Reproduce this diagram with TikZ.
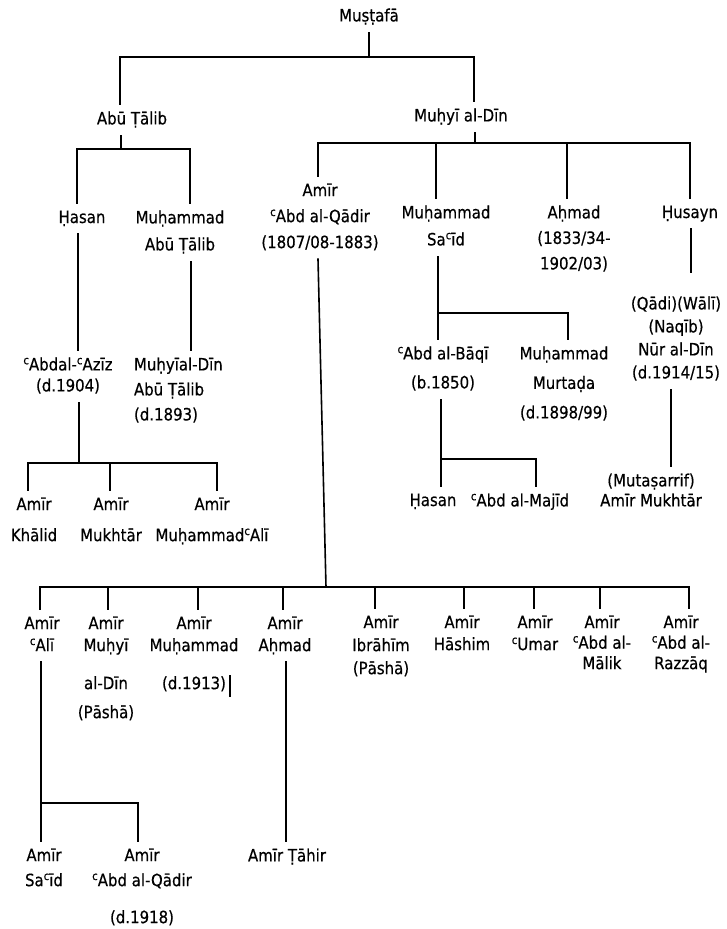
\documentclass[tikz,border=0pt]{standalone}
\usepackage{fontspec}
\newfontfamily\pf[FakeStretch=0.88, FakeBold=0.5]{DejaVu Sans}
\newcommand\ayn{\raisebox{.36em}{\fontsize{11.5pt}{11.5pt}\selectfont c}}
\tikzset{
  person/.style={align=center, inner sep=0pt, outer xsep=0pt, outer ysep=7pt, anchor=north,
    font=\pf\fontsize{17pt}{#1}\selectfont,
    execute at begin node={\rule[-4pt]{0pt}{16.5pt}},
    execute at end node={\rule[-4pt]{0pt}{4pt}}},
  person/.default=22pt,
  link/.style={line width=1.6pt, line cap=rect}
}
\begin{document}
\begin{tikzpicture}[x=1pt,y=-1pt]
\fill[white] (0,0) rectangle (727,929);
\useasboundingbox (0,0) rectangle (727,929);

% ---------- nodes ----------
\node[person] (must) at (369,1.5) {Muṣṭafā};
\node[person] (abu) at (132,104.5) {Abū Ṭālib};
\node[person] (muhyi) at (461,101.5) {Muḥyī al-Dīn};

\node[person] (hasan) at (82,203.5) {Ḥasan};
\node[person=27pt] (mabu) at (180,203.5) {Muḥammad\\Abū Ṭālib};
\node[person=26pt] (amir) at (320,176.5) {Amīr\\\ayn Abd al-Qādir\\(1807/08-1883)};
\node[person=27pt] (msaid) at (446,198.5) {Muḥammad\\Sa\ayn īd};
\node[person=25.5pt] (ahmad) at (574,198.5) {Aḥmad\\(1833/34-\\1902/03)};
\node[person] (husayn) at (690,198.5) {Ḥusayn};

\node[person=23pt] (nur) at (676,289.5) {(Qādi)(Wālī)\\(Naqīb)\\Nūr al-Dīn\\(d.1914/15)};
\node[person=21pt] (azz) at (68,350.5) {\ayn Abdal-\ayn Azīz\\(d.1904)};
\node[person=25pt, anchor=north west, align=left] (muhyiad) at (134,350.5) {Muḥyīal-Dīn\\Abū Ṭālib\\(d.1893)};

\node[person=31pt] (khalid) at (34,490.5) {Amīr\\Khālid};
\node[person=31pt] (mukhtar) at (111,490.5) {Amīr\\Mukhtār};
\node[person=31pt] (mali) at (212,490.5) {Amīr\\Muḥammad\ayn Alī};

\node[person=29pt] (baqi) at (443,339.5) {\ayn Abd al-Bāqī\\(b.1850)};
\node[person=29.5pt] (murtada) at (564,339.5) {Muḥammad\\Murtaḍa\\(d.1898/99)};
\node[person] (hasan2) at (433,486.5) {Ḥasan};
\node[person] (majid) at (520,486.5) {\ayn Abd al-Majīd};
\node[person=20pt] (mukh2) at (651,466.5) {(Mutaṣarrif)\\Amīr Mukhtār};

\node[person] (ali) at (42,609.5) {Amīr\\\ayn Alī};
\node[person] (muhyip) at (106,609.5) {Amīr\\Muḥyī\\[16pt]al-Dīn\\[7pt](Pāshā)};
\node[person] (mmuh) at (194,609.5) {Amīr\\Muḥammad\\[16pt](d.1913)};
\node[person] (ahmad2) at (285,609.5) {Amīr\\Aḥmad};
\node[person=23pt] (ibr) at (381,608.5) {Amīr\\Ibrāhīm\\(Pāshā)};
\node[person] (hashim) at (462,608.5) {Amīr\\Hāshim};
\node[person] (umar) at (535,608.5) {Amīr\\\ayn Umar};
\node[person=20.5pt] (malik) at (602,608.5) {Amīr\\\ayn Abd al-\\Mālik};
\node[person=20.5pt] (razzaq) at (681,608.5) {Amīr\\\ayn Abd al-\\Razzāq};

\node[person=25pt] (said) at (44,841.5) {Amīr\\Sa\ayn īd};
\node[person=25pt] (qadir2) at (142,841.5) {Amīr\\\ayn Abd al-Qādir\\[12pt](d.1918)};
\node[person] (tahir) at (287,841.5) {Amīr Ṭāhir};

% ---------- junction coordinates ----------
\coordinate (j0) at (369,57);  \coordinate (j0L) at (120,57);  \coordinate (j0R) at (474,57);
\coordinate (j1) at (121,149); \coordinate (j1L) at (77,149);  \coordinate (j1R) at (190,149);
\coordinate (j2) at (475,143); \coordinate (j2L) at (318,143); \coordinate (j2R) at (690,143);
\coordinate (j2a) at (436,143); \coordinate (j2b) at (567,143);
\coordinate (c1) at (78,0); \coordinate (c2) at (191,0); \coordinate (c3) at (318,0);
\coordinate (c4) at (691,0); \coordinate (c4e) at (691,272); \coordinate (c5) at (671,0);
\coordinate (c6) at (286,0);
\coordinate (j3) at (79,463); \coordinate (j3L) at (28,463); \coordinate (j3M) at (110,463); \coordinate (j3R) at (217,463);
\coordinate (j4) at (326,587); \coordinate (j4L) at (40,587); \coordinate (j4R) at (689,587);
\coordinate (d1) at (108,587); \coordinate (d2) at (198,587); \coordinate (d3) at (283,587);
\coordinate (d4) at (375,587); \coordinate (d5) at (464,587); \coordinate (d6) at (534,587); \coordinate (d7) at (600,587);
\coordinate (j5) at (438,313); \coordinate (j5R) at (568,313);
\coordinate (j6) at (441,459); \coordinate (j6R) at (536,459);
\coordinate (j7) at (41,803); \coordinate (j7R) at (138,803);
\coordinate (tk1) at (230,675); \coordinate (tk2) at (230,697);

% ---------- connectors ----------
\draw[link] (must.south) -- (j0);
\draw[link] (j0L) -- (j0R);
\draw[link] (j0L) -- (j0L |- abu.north);
\draw[link] (j0R) -- (j0R |- muhyi.north);

\draw[link] (j1 |- abu.south) -- (j1);
\draw[link] (j1L) -- (j1R);
\draw[link] (j1L) -- (j1L |- hasan.north);
\draw[link] (j1R) -- (j1R |- mabu.north);

\draw[link] (j2 |- muhyi.south) -- (j2);
\draw[link] (j2L) -- (j2R);
\draw[link] (j2L) -- (j2L |- amir.north);
\draw[link] (j2a) -- (j2a |- msaid.north);
\draw[link] (j2b) -- (j2b |- ahmad.north);
\draw[link] (j2R) -- (j2R |- husayn.north);

\draw[link] (c1 |- hasan.south) -- (c1 |- azz.north);
\draw[link] (c2 |- mabu.south) -- (c2 |- muhyiad.north);
\draw[link] (c4 |- husayn.south) -- (c4e);
\draw[link] (c5 |- nur.south) -- (c5 |- mukh2.north);

\draw[link] (j3 |- azz.south) -- (j3);
\draw[link] (j3L) -- (j3R);
\draw[link] (j3L) -- (j3L |- khalid.north);
\draw[link] (j3M) -- (j3M |- mukhtar.north);
\draw[link] (j3R) -- (j3R |- mali.north);

\draw[link] (j5 |- msaid.south) -- (j5);
\draw[link] (j5) -- (j5R);
\draw[link] (j5) -- (j5 |- baqi.north);
\draw[link] (j5R) -- (j5R |- murtada.north);

\draw[link] (j6 |- baqi.south) -- (j6);
\draw[link] (j6) -- (j6R);
\draw[link] (j6) -- (j6 |- hasan2.north);
\draw[link] (j6R) -- (j6R |- majid.north);

\draw[link] (c3 |- amir.south) -- (j4);
\draw[link] (j4L) -- (j4R);
\draw[link] (j4L) -- (j4L |- ali.north);
\draw[link] (d1) -- (d1 |- muhyip.north);
\draw[link] (d2) -- (d2 |- mmuh.north);
\draw[link] (d3) -- (d3 |- ahmad2.north);
\draw[link] (d4) -- (d4 |- ibr.north);
\draw[link] (d5) -- (d5 |- hashim.north);
\draw[link] (d6) -- (d6 |- umar.north);
\draw[link] (d7) -- (d7 |- malik.north);
\draw[link] (j4R) -- (j4R |- razzaq.north);

\draw[link] (j7 |- ali.south) -- (j7);
\draw[link] (j7) -- (j7R);
\draw[link] (j7) -- (j7 |- said.north);
\draw[link] (j7R) -- (j7R |- qadir2.north);
\draw[link] (c6 |- ahmad2.south) -- (c6 |- tahir.north);

\draw[line width=1.2pt] (tk1) -- (tk2);
\end{tikzpicture}
\end{document}
